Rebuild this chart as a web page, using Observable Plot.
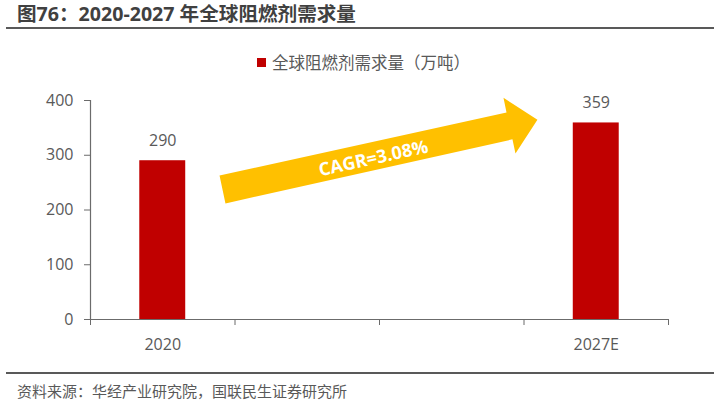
<!DOCTYPE html>
<html><head><meta charset="utf-8">
<script src="https://cdn.jsdelivr.net/npm/d3@7"></script>
<script src="https://cdn.jsdelivr.net/npm/@observablehq/plot@0.6"></script>
<style>
body{margin:0;background:#fff;}
#wrap{position:relative;width:720px;height:401px;overflow:hidden;font-family:"Open Sans","Noto Sans CJK SC",sans-serif;background:#fff;}
#title{position:absolute;left:17px;top:1px;font-size:19.6px;line-height:26px;font-weight:bold;color:#404040;font-family:"Open Sans","Noto Sans CJK SC",sans-serif;white-space:nowrap;}
#tline{position:absolute;left:6px;top:27px;width:708px;height:2px;background:#595959;}
#legend{position:absolute;left:257px;top:51px;height:22px;display:flex;align-items:center;font-size:16.5px;color:#595959;white-space:nowrap;}
#legend .sw{width:9px;height:9px;background:#C00000;margin-right:6px;}
#sline{position:absolute;left:6px;top:372px;width:708px;height:1.5px;background:#595959;}
#source{position:absolute;left:17px;top:380px;font-size:15px;line-height:22px;color:#595959;white-space:nowrap;}
#chart{position:absolute;left:0;top:0;}
</style></head>
<body>
<div id="wrap">
  <div id="chart"></div>
  <div id="title"></div>
  <div id="tline"></div>
  <div id="legend"><div class="sw"></div><span id="legtext"></span></div>
  <div id="sline"></div>
  <div id="source"></div>
</div>
<script>
const titleText = "图76：2020-2027 年全球阻燃剂需求量";
const sourceText = "资料来源：华经产业研究院，国联民生证券研究所";
const seriesName = "全球阻燃剂需求量（万吨）";
const categories = ["2020", "", "", "2027E"];
const values = [290, null, null, 359];
const yTicks = [0, 100, 200, 300, 400];
const cagrLabel = "CAGR=3.08%";
// arrow annotation outline in data coordinates (category index, value)
const arrowX = [0.434, 0.393, 2.379, 2.358, 2.593, 2.441, 2.420];
const arrowY = [212, 263, 378, 405, 365, 303, 329];
const cagrX = [1.458];
const cagrY = [294];

document.getElementById("title").textContent = titleText;
document.getElementById("legtext").textContent = seriesName;
document.getElementById("source").textContent = sourceText;

const bars = categories.map((c, i) => ({i, c, v: values[i]})).filter(d => d.v != null);
const arrow = arrowX.map((x, k) => ({x, y: arrowY[k]}));
const bandEdges = d3.range(categories.length + 1).map(k => k - 0.5);
const labelIdx = categories.map((c, i) => i).filter(i => categories[i] !== "");
const halfBar = 0.159;
const axisColor = "#6b6b6b";
const textColor = "#595959";
const numSize = 16;

const chart = Plot.plot({
  width: 720,
  height: 401,
  marginTop: 100,
  marginBottom: 82,
  marginLeft: 90,
  marginRight: 52,
  style: {fontFamily: '"Open Sans","Noto Sans CJK SC",sans-serif', fontSize: "16px", color: textColor, background: "transparent"},
  x: {type: "linear", domain: [-0.5, categories.length - 0.5], axis: null},
  y: {domain: [0, 400], axis: null},
  marks: [
    Plot.axisY({ticks: yTicks, tickSize: 6, tickPadding: 11, stroke: axisColor, fill: textColor, fontSize: numSize, label: null}),
    Plot.axisX({ticks: bandEdges, tickSize: 6, tickFormat: () => "", stroke: axisColor, label: null}),
    Plot.axisX({ticks: labelIdx, tickSize: 0, tickPadding: 19, tickFormat: i => categories[i], fill: textColor, fontSize: numSize, label: null}),
    Plot.rectY(bars, {x1: d => d.i - halfBar, x2: d => d.i + halfBar, y: "v", fill: "#C00000"}),
    Plot.text(bars, {x: "i", y: "v", text: d => String(d.v), dy: -20, fill: textColor, fontSize: numSize}),
    Plot.ruleX([-0.5], {y1: 0, y2: 400, stroke: axisColor, strokeWidth: 1.2}),
    Plot.ruleY([0], {x1: -0.5, x2: categories.length - 0.5, stroke: axisColor, strokeWidth: 1.2}),
    Plot.line(arrow, {x: "x", y: "y", curve: "linear-closed", fill: "#FFC000", stroke: "none"}),
    Plot.text([cagrLabel], {x: () => cagrX[0], y: () => cagrY[0], text: d => d, rotate: -12.5, fill: "white", fontWeight: "bold", fontSize: 18})
  ]
});
document.getElementById("chart").appendChild(chart);
</script>
</body></html>
